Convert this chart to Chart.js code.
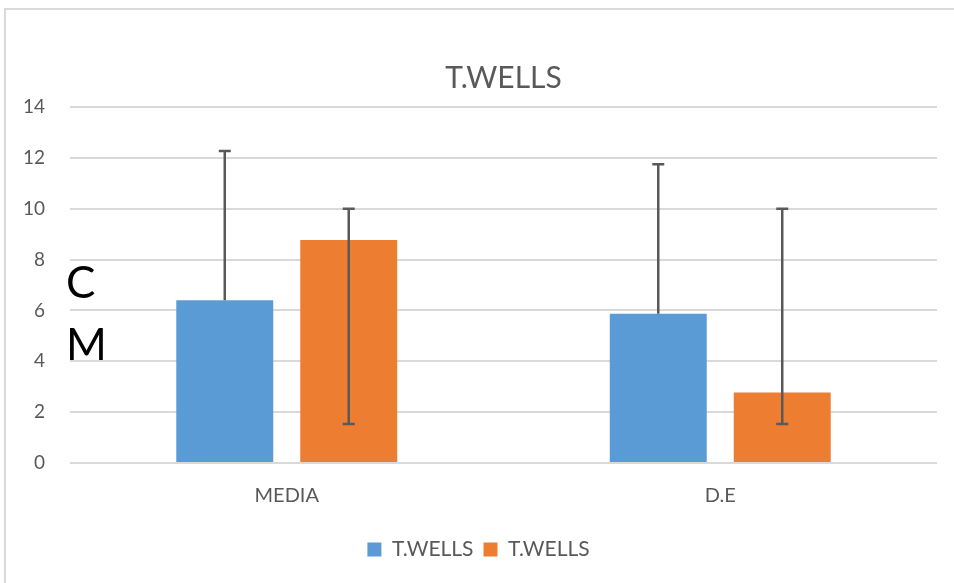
<!DOCTYPE html>
<html>
<head>
<meta charset="utf-8">
<script src="https://cdn.jsdelivr.net/npm/chart.js@4"></script>
<style>
  html, body { margin: 0; padding: 0; background: #fff; }
  #wrap { position: relative; width: 954px; height: 583px; overflow: hidden; }
  #frame { position: absolute; left: 4px; top: 8px; width: 980px; height: 600px; border: 2px solid #d9d9d9; box-sizing: border-box; }
  canvas { position: absolute; left: 0; top: 0; }
</style>
</head>
<body>
<div id="wrap">
  <div id="frame"></div>
  <canvas id="chart" width="954" height="583"></canvas>
</div>
<script>
const chartTitle = "T.WELLS";
const categories = ["MEDIA", "D.E"];
const seriesNames = ["T.WELLS", "T.WELLS"];
const blueValues = [6.4, 5.87];
const orangeValues = [8.77, 2.77];
// error bar ends (low, high)
const blueErrLow = [6.4, 5.87];
const blueErrHigh = [12.27, 11.75];
const orangeErrLow = [1.53, 1.53];
const orangeErrHigh = [10.0, 10.0];
const yTicks = [0, 2, 4, 6, 8, 10, 12, 14];

const FONT = "Lato, 'Open Sans', sans-serif";
const GREY = "#595959";

const errorBars = {
  id: "errorBars",
  afterDatasetsDraw(chart) {
    const ctx = chart.ctx;
    const y = chart.scales.y;
    chart.data.datasets.forEach((ds, di) => {
      const meta = chart.getDatasetMeta(di);
      meta.data.forEach((bar, i) => {
        const lo = y.getPixelForValue(ds.errLow[i]);
        const hi = y.getPixelForValue(ds.errHigh[i]);
        ctx.save();
        ctx.strokeStyle = GREY;
        ctx.lineWidth = 2.5;
        ctx.beginPath();
        ctx.moveTo(bar.x, lo);
        ctx.lineTo(bar.x, hi);
        ctx.moveTo(bar.x - 6, hi);
        ctx.lineTo(bar.x + 6, hi);
        if (ds.errLow[i] < ds.data[i]) {
          ctx.moveTo(bar.x - 6, lo);
          ctx.lineTo(bar.x + 6, lo);
        }
        ctx.stroke();
        ctx.restore();
      });
    });
  }
};

// title centred over the plot area (Excel style) plus the "C" / "M" text boxes
const overlayText = {
  id: "overlayText",
  afterDraw(chart) {
    const ctx = chart.ctx;
    const area = chart.chartArea;
    ctx.save();
    ctx.fillStyle = GREY;
    ctx.font = "30px " + FONT;
    ctx.textAlign = "center";
    ctx.textBaseline = "middle";
    ctx.fillText(chartTitle, (area.left + area.right) / 2, 78);
    ctx.fillStyle = "#000";
    ctx.font = "44px " + FONT;
    ctx.textAlign = "left";
    ctx.textBaseline = "alphabetic";
    ctx.fillText("C", 66, 298);
    ctx.fillText("M", 66, 360);
    ctx.restore();
  }
};

new Chart(document.getElementById("chart"), {
  type: "bar",
  data: {
    labels: categories,
    datasets: [
      {
        label: seriesNames[0],
        data: blueValues,
        errLow: blueErrLow,
        errHigh: blueErrHigh,
        backgroundColor: "#5b9bd5",
        categoryPercentage: 0.572,
        barPercentage: 0.782
      },
      {
        label: seriesNames[1],
        data: orangeValues,
        errLow: orangeErrLow,
        errHigh: orangeErrHigh,
        backgroundColor: "#ed7d31",
        categoryPercentage: 0.572,
        barPercentage: 0.782
      }
    ]
  },
  options: {
    responsive: false,
    animation: false,
    layout: { padding: { top: 107, left: 20, right: 17, bottom: 13 } },
    plugins: {
      title: { display: false },
      legend: {
        position: "bottom",
        labels: {
          color: GREY,
          boxWidth: 14,
          boxHeight: 14,
          font: { family: FONT, size: 21 },
          padding: 10
        }
      },
      tooltip: { enabled: false }
    },
    scales: {
      x: {
        grid: { display: false },
        border: { display: false },
        ticks: { color: GREY, font: { family: FONT, size: 20 }, padding: 13 },
        afterFit(scale) { scale.height = 66; }
      },
      y: {
        min: 0,
        max: 14,
        afterBuildTicks(scale) { scale.ticks = yTicks.map(v => ({ value: v })); },
        grid: { color: "#d9d9d9", lineWidth: 2, drawTicks: false },
        border: { display: false },
        ticks: { color: GREY, font: { family: FONT, size: 19 }, padding: 25 },
        afterFit(scale) { scale.width = 50; }
      }
    }
  },
  plugins: [errorBars, overlayText]
});
</script>
</body>
</html>
